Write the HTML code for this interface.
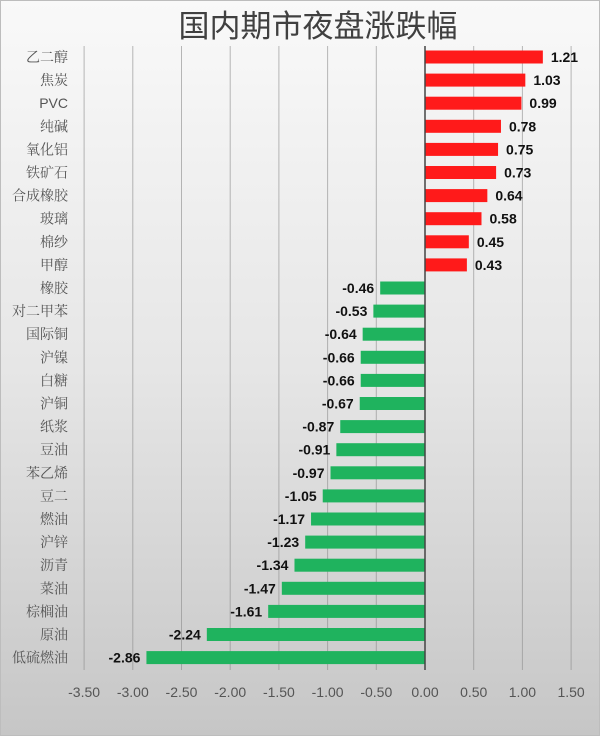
<!DOCTYPE html>
<html><head><meta charset="utf-8"><style>
body{margin:0;width:600px;height:736px;overflow:hidden}
</style></head><body>
<svg width="600" height="736" xmlns="http://www.w3.org/2000/svg" font-family="Liberation Sans, 'Noto Sans CJK SC', sans-serif">
<defs><linearGradient id="bg" x1="0" y1="0" x2="0" y2="1"><stop offset="0" stop-color="#f9f9f9"/><stop offset="0.5" stop-color="#e6e6e6"/><stop offset="1" stop-color="#c6c6c6"/></linearGradient></defs>
<rect x="0" y="0" width="600" height="736" fill="url(#bg)"/>
<rect x="0.5" y="0.5" width="599" height="735" fill="none" stroke="#bdbdbd"/>
<text x="318" y="37" font-size="31" text-anchor="middle" fill="#404040" font-family="'Noto Sans CJK SC', sans-serif">国内期市夜盘涨跌幅</text>
<g id="g"></g>
</svg>
<script>
const d=[["乙二醇",1.21],["焦炭",1.03],["PVC",0.99],["纯碱",0.78],["氧化铝",0.75],["铁矿石",0.73],["合成橡胶",0.64],["玻璃",0.58],["棉纱",0.45],["甲醇",0.43],["橡胶",-0.46],["对二甲苯",-0.53],["国际铜",-0.64],["沪镍",-0.66],["白糖",-0.66],["沪铜",-0.67],["纸浆",-0.87],["豆油",-0.91],["苯乙烯",-0.97],["豆二",-1.05],["燃油",-1.17],["沪锌",-1.23],["沥青",-1.34],["菜油",-1.47],["棕榈油",-1.61],["原油",-2.24],["低硫燃油",-2.86]];
const X=v=>425+v*97.4;let s="";
for(let i=-7;i<=3;i++){const v=i*0.5,x=X(v);if(i!==0)s+=`<line x1="${x}" y1="46" x2="${x}" y2="670" stroke="#8a8a8a" stroke-opacity="0.6" stroke-width="1"/>`;
s+=`<text x="${x}" y="697" font-size="14" text-anchor="middle" fill="#555">${v.toFixed(2)}</text>`;}
d.forEach((r,i)=>{const c=57+i*23.1,v=r[1],x0=X(0),x1=X(v);
s+=`<rect x="${Math.min(x0,x1)}" y="${c-6.5}" width="${Math.abs(x1-x0)}" height="13" fill="${v>0?'#ff1a1a':'#1fb35e'}"/>`;
s+=`<text x="68" y="${c+5}" font-size="14" text-anchor="end" fill="#555" font-family="Liberation Sans, 'Noto Serif CJK SC', serif">${r[0]}</text>`;
s+= v>0?`<text x="${x1+8}" y="${c+5}" font-size="14" font-weight="bold" fill="#111">${v.toFixed(2)}</text>`
:`<text x="${x1-6}" y="${c+5}" font-size="14" font-weight="bold" fill="#111" text-anchor="end">${v.toFixed(2)}</text>`;});
s+=`<line x1="${X(0)}" y1="46" x2="${X(0)}" y2="670" stroke="#444" stroke-width="1.5"/>`;
document.getElementById("g").innerHTML=s;
</script>
</body></html>
